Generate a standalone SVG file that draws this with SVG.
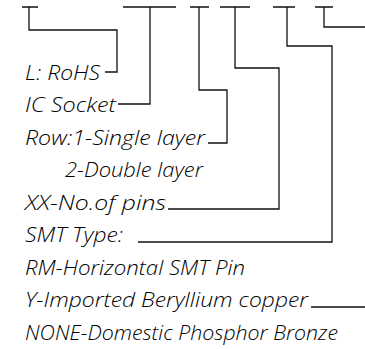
<svg xmlns="http://www.w3.org/2000/svg" width="365" height="349" viewBox="0 0 365 349">
<style>
.c{fill:none;stroke:#111;stroke-width:1.3}
.t{font-family:"Open Sans","DejaVu Sans",sans-serif;font-size:19.5px;font-style:italic;font-weight:300;fill:#000}
</style>
<rect width="365" height="349" fill="#fff"/>
<g id="connectors">
<path class="c" d="M22,7H38M29,7V30H117V72H105"/>
<path class="c" d="M123,7H176M150,7V104H118"/>
<path class="c" d="M190,7H209M199,7V90H227V143H208"/>
<path class="c" d="M220,7H250M235,7V68H279V209H168"/>
<path class="c" d="M273,7H295M287,7V46H332V242H138"/>
<path class="c" d="M315,7H333M324,7V27H365"/>
<path class="c" d="M311,307H365"/>
</g>
<g id="n1"><text class="t" x="25" y="80" textLength="75" lengthAdjust="spacingAndGlyphs">L: RoHS</text></g>
<g id="n2"><text class="t" x="25" y="112" textLength="91" lengthAdjust="spacingAndGlyphs">IC Socket</text></g>
<g id="n3"><text class="t" x="25" y="145" textLength="180" lengthAdjust="spacingAndGlyphs">Row:1-Single layer</text></g>
<g id="n4"><text class="t" x="65" y="177" textLength="138" lengthAdjust="spacingAndGlyphs">2-Double layer</text></g>
<g id="n5"><text class="t" x="25" y="210" textLength="141" lengthAdjust="spacingAndGlyphs">XX-No.of pins</text></g>
<g id="n6"><text class="t" x="25" y="242" textLength="98" lengthAdjust="spacingAndGlyphs">SMT Type:</text></g>
<g id="n7"><text class="t" x="25" y="275" textLength="220" lengthAdjust="spacingAndGlyphs">RM-Horizontal SMT Pin</text></g>
<g id="n8"><text class="t" x="25" y="307" textLength="283" lengthAdjust="spacingAndGlyphs">Y-Imported Beryllium copper</text></g>
<g id="n9"><text class="t" x="25" y="340" textLength="313" lengthAdjust="spacingAndGlyphs">NONE-Domestic Phosphor Bronze</text></g>
</svg>
